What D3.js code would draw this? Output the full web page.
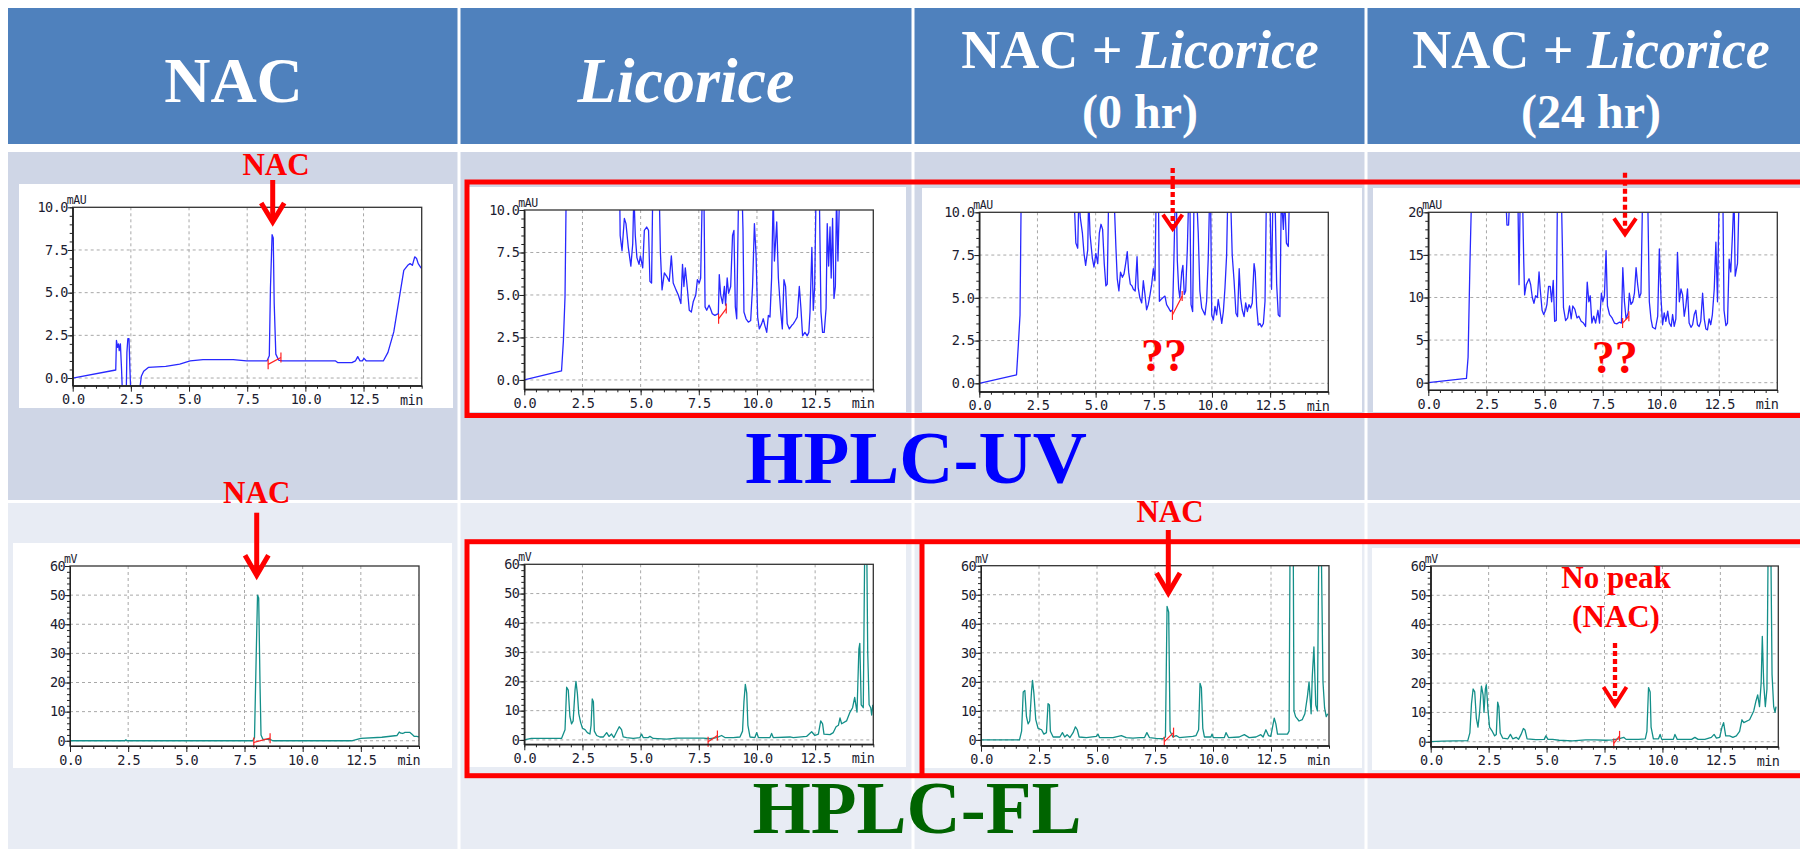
<!DOCTYPE html>
<html>
<head>
<meta charset="utf-8">
<script src="https://cdn.jsdelivr.net/npm/d3@7"></script>
<style>
  body { margin: 0; background: #fff; }
</style>
</head>
<body>
<svg id="fig" width="1800" height="849"></svg>
<script>
// tick values
const xMajor = [0, 2.5, 5, 7.5, 10, 12.5];
const uvTicks10 = [0, 2.5, 5, 7.5, 10];
const uvTicks20 = [0, 5, 10, 15, 20];
const flTicks = [0, 10, 20, 30, 40, 50, 60];

const columns = ['NAC', 'Licorice', 'NAC + Licorice', 'NAC + Licorice'];
const subtitles = ['', '', '(0 hr)', '(24 hr)'];

// chromatograms, [min, signal]; values above the scale are off-chart peaks
const uvNac = [[0,0],[1.85,0.47],[1.88,2.2],[1.93,1.8],[1.97,2.0],[2.0,1.6],[2.05,2.0],[2.1,0.5],[2.14,-1],[2.3,-1],[2.33,1.5],[2.37,2.3],[2.42,2.3],[2.46,0.5],[2.5,-1],[2.85,-1],[2.95,0.1],[3.05,0.4],[3.25,0.62],[4.0,0.68],[4.6,0.82],[5.05,1.0],[5.6,1.08],[6.9,1.08],[7.47,1.0],[8.35,1.0],[8.45,1.3],[8.5,5.3],[8.57,8.4],[8.62,8.2],[8.66,4.4],[8.73,1.4],[8.85,1.05],[9.0,1.0],[11.3,1.0],[11.4,0.9],[12.0,0.9],[12.15,1.0],[12.25,1.25],[12.35,1.0],[12.45,1.0],[12.52,1.15],[12.62,1.0],[13.35,1.0],[13.55,1.5],[13.8,2.7],[14.05,4.8],[14.23,6.3],[14.4,6.6],[14.5,6.7],[14.6,6.6],[14.7,7.1],[14.78,7.0],[14.85,6.7],[14.95,6.5],[15,6.4]];

const uvLic = [[0,0],[1.6,0.53],[1.68,2.3],[1.75,4.9],[1.8,11],[4.1,11],[4.12,8.5],[4.2,7.6],[4.3,9.5],[4.37,9.2],[4.47,7.8],[4.58,6.7],[4.66,8.0],[4.71,11],[4.77,8.5],[4.84,7.2],[4.93,6.8],[4.99,7.3],[5.09,6.6],[5.16,8.8],[5.26,9.0],[5.34,8.8],[5.4,5.8],[5.47,5.7],[5.52,11],[5.8,11],[5.85,7.5],[5.92,5.3],[6.02,6.3],[6.12,6.1],[6.23,5.8],[6.32,7.3],[6.4,5.7],[6.52,5.3],[6.62,5.0],[6.73,4.5],[6.8,6.8],[6.86,5.5],[6.92,6.6],[7.0,5.5],[7.09,4.1],[7.18,4.0],[7.26,4.6],[7.37,5.0],[7.44,5.9],[7.52,5.7],[7.58,6.0],[7.65,11],[7.72,11],[7.77,4.3],[7.84,4.1],[7.94,4.4],[8.0,4.2],[8.08,3.9],[8.19,3.8],[8.34,3.9],[8.38,6.2],[8.44,5.0],[8.52,4.5],[8.6,5.5],[8.65,4.4],[8.72,6.0],[8.78,5.1],[8.87,5.5],[8.95,8.5],[9.01,8.8],[9.07,4.3],[9.13,3.6],[9.21,11],[9.36,11],[9.4,8.8],[9.44,4.0],[9.53,3.6],[9.63,3.4],[9.73,3.5],[9.81,5.5],[9.89,9.2],[9.96,7.4],[10.03,3.7],[10.1,3.0],[10.2,3.3],[10.27,3.6],[10.34,3.2],[10.42,2.8],[10.49,3.8],[10.56,3.7],[10.63,6.0],[10.7,11],[10.75,7.0],[10.85,9.3],[10.92,6.0],[11.02,4.0],[11.09,3.0],[11.16,5.9],[11.23,5.5],[11.3,3.3],[11.39,3.0],[11.49,3.2],[11.56,3.3],[11.65,3.5],[11.73,3.7],[11.82,5.5],[11.89,4.2],[11.96,2.6],[12.06,2.8],[12.16,2.6],[12.23,2.8],[12.28,4.0],[12.36,7.8],[12.42,4.1],[12.48,5.5],[12.54,11],[12.68,11],[12.75,4.0],[12.82,2.8],[12.89,2.8],[12.97,4.2],[13.02,9.2],[13.08,6.7],[13.14,9.0],[13.19,6.0],[13.25,9.5],[13.31,4.8],[13.37,5.5],[13.42,11],[13.48,7.0],[13.55,11]];

const uvMix0 = [[0,0],[1.6,0.5],[1.68,2.3],[1.75,4.0],[1.8,11],[4.07,11],[4.15,8.2],[4.23,7.9],[4.28,11],[4.34,9.7],[4.43,8.8],[4.5,7.6],[4.57,6.9],[4.66,7.8],[4.7,11],[4.76,8.7],[4.86,7.3],[4.93,6.8],[5.01,7.6],[5.09,7.0],[5.16,8.8],[5.23,9.3],[5.3,9.0],[5.37,7.0],[5.44,5.7],[5.5,5.8],[5.56,11],[5.79,11],[5.87,8.0],[5.93,6.1],[6.0,5.4],[6.07,6.5],[6.15,6.2],[6.22,6.4],[6.29,7.0],[6.36,7.7],[6.42,6.5],[6.49,5.8],[6.56,5.7],[6.62,5.5],[6.7,5.4],[6.78,7.4],[6.83,5.6],[6.9,5.0],[6.98,4.7],[7.05,6.0],[7.12,5.2],[7.19,4.3],[7.26,4.6],[7.34,5.2],[7.41,5.8],[7.48,6.7],[7.55,6.0],[7.6,11],[7.7,11],[7.74,4.8],[7.81,4.9],[7.89,5.0],[7.98,5.1],[8.05,4.6],[8.14,4.4],[8.22,4.2],[8.31,4.3],[8.37,7.6],[8.42,11],[8.47,11],[8.51,7.2],[8.57,5.5],[8.62,5.0],[8.7,6.5],[8.75,6.9],[8.81,5.2],[8.87,5.4],[8.94,7.8],[9.0,11],[9.05,11],[9.1,4.6],[9.17,4.2],[9.23,11],[9.34,11],[9.41,8.8],[9.48,5.4],[9.56,4.4],[9.63,4.2],[9.7,4.0],[9.77,4.8],[9.84,7.3],[9.9,11],[9.94,11],[9.99,4.0],[10.06,3.7],[10.13,4.5],[10.2,4.0],[10.27,4.9],[10.34,4.3],[10.42,3.5],[10.49,4.2],[10.56,5.6],[10.63,7.5],[10.68,11],[10.8,11],[10.87,7.5],[10.95,6.0],[11.03,4.1],[11.1,3.9],[11.17,6.7],[11.23,5.0],[11.3,4.3],[11.38,3.9],[11.45,4.7],[11.52,4.2],[11.59,4.6],[11.66,4.4],[11.73,4.7],[11.81,7.0],[11.86,6.5],[11.92,4.5],[11.99,3.4],[12.06,3.5],[12.13,3.3],[12.21,3.5],[12.28,4.8],[12.34,11],[12.49,11],[12.56,5.5],[12.62,11],[12.71,11],[12.78,5.8],[12.85,4.0],[12.92,3.9],[12.98,11],[13.07,9.0],[13.12,11],[13.2,8.2],[13.28,8.0],[13.33,11]];

const uvMix24 = [[0,0],[1.64,0.5],[1.71,3],[1.79,14],[1.86,22],[3.33,22],[3.38,18.5],[3.45,18.5],[3.5,22],[3.85,22],[3.9,11.5],[3.95,22],[4.05,22],[4.1,14.5],[4.14,10.3],[4.21,11.5],[4.33,12.2],[4.4,11.5],[4.47,10.0],[4.54,9.3],[4.61,10.2],[4.69,10.0],[4.76,13.0],[4.81,11.0],[4.89,8.5],[4.96,8.0],[5.04,8.5],[5.1,9.2],[5.17,11.3],[5.24,11.3],[5.3,9.5],[5.37,12.0],[5.43,7.2],[5.5,7.3],[5.55,22],[5.72,22],[5.77,15],[5.81,8.8],[5.9,7.3],[5.99,7.6],[6.07,9.0],[6.14,7.5],[6.21,9.0],[6.3,8.6],[6.39,7.6],[6.47,7.8],[6.57,7.2],[6.67,7.0],[6.76,6.6],[6.83,11.8],[6.9,9.5],[6.96,10.2],[7.03,7.0],[7.11,7.8],[7.19,7.0],[7.29,8.5],[7.36,7.0],[7.44,10.5],[7.5,9.5],[7.57,10.2],[7.64,15.5],[7.7,9.0],[7.79,8.0],[7.9,7.6],[8.0,7.0],[8.1,6.9],[8.21,7.1],[8.3,7.0],[8.36,13.5],[8.43,9.5],[8.5,7.5],[8.59,8.2],[8.64,10.5],[8.71,9.2],[8.79,9.5],[8.86,10.5],[8.93,13.5],[9.0,11.5],[9.07,10.0],[9.14,10.5],[9.21,22],[9.43,22],[9.5,9.5],[9.57,7.5],[9.64,6.5],[9.76,6.3],[9.86,7.8],[9.93,15.7],[10.0,10.0],[10.07,6.8],[10.14,8.2],[10.21,7.2],[10.29,8.4],[10.36,7.0],[10.44,6.6],[10.5,8.0],[10.57,6.6],[10.64,7.5],[10.71,15.3],[10.79,9.5],[10.86,11.0],[10.93,10.3],[11.0,7.8],[11.07,9.0],[11.14,11.0],[11.21,7.0],[11.29,6.5],[11.36,6.8],[11.43,8.0],[11.5,8.5],[11.57,6.8],[11.64,6.6],[11.71,7.2],[11.79,10.5],[11.86,7.5],[11.93,6.3],[12.0,6.2],[12.07,7.5],[12.14,6.8],[12.21,8.0],[12.29,11.0],[12.36,16.5],[12.43,9.5],[12.5,22],[12.66,22],[12.71,8.5],[12.79,6.7],[12.86,7.0],[12.93,14.5],[13.0,13.0],[13.07,17.2],[13.14,22],[13.19,12.5],[13.29,14],[13.36,22]];

const flNac = [[0,0],[2.35,0],[2.4,0.3],[2.45,0],[7.85,0],[7.93,1],[8.0,28],[8.06,50],[8.11,49],[8.17,18],[8.21,2],[8.29,0.5],[8.6,0.5],[8.71,0],[12.1,0],[12.5,0.8],[13.4,1.2],[14.05,1.8],[14.15,3.0],[14.22,2.6],[14.3,2.5],[14.4,2.9],[14.6,2.9],[14.7,2.2],[14.8,1.5],[14.9,1.5],[15,1.3]];

const flLic = [[0,0],[0.3,0.5],[1.6,0.5],[1.75,3.5],[1.82,18],[1.89,17],[1.96,8],[2.03,5.5],[2.1,6.5],[2.18,17],[2.22,20],[2.28,16],[2.34,9],[2.42,6],[2.5,4],[2.61,3.5],[2.71,2.5],[2.82,2.0],[2.87,5],[2.92,14],[2.97,13],[3.01,3],[3.11,1.5],[3.25,1.0],[3.4,1.0],[3.54,2.5],[3.64,1.2],[3.75,2.0],[3.85,0.8],[3.97,2.8],[4.08,4.5],[4.18,3.5],[4.25,1.0],[4.4,0.8],[4.68,0.5],[4.97,0.8],[5.04,2.0],[5.11,0.8],[5.33,0.8],[5.4,1.2],[5.54,0.5],[6.12,0.3],[6.55,0.6],[6.98,0.6],[7.26,0.6],[7.69,0.6],[7.98,0.4],[8.27,0.8],[8.48,1.5],[8.62,0.8],[8.98,0.8],[9.27,1.0],[9.38,3.0],[9.44,13],[9.5,19],[9.56,16],[9.61,5],[9.7,1.0],[9.91,0.8],[9.99,2.5],[10.06,0.8],[10.56,0.8],[10.63,2.2],[10.7,0.8],[11.42,1.0],[11.56,0.8],[12.13,1.2],[12.35,2.8],[12.49,1.5],[12.64,2.0],[12.74,6.5],[12.82,5.5],[12.88,2.0],[13.14,1.8],[13.28,2.5],[13.4,4.5],[13.5,5.0],[13.57,7.5],[13.64,5.5],[13.85,6.5],[14.0,9.5],[14.11,11],[14.2,14.5],[14.3,9.5],[14.38,31],[14.42,33],[14.48,12],[14.57,11],[14.63,65],[14.72,65],[14.76,30],[14.82,12],[14.89,11],[14.93,8.5],[14.98,12]];

const flMix0 = [[0,0],[1.66,0],[1.75,3],[1.82,16.5],[1.89,17],[1.96,8],[2.03,5.5],[2.1,6.5],[2.18,17],[2.22,20.5],[2.28,16],[2.36,7],[2.46,4],[2.61,3.5],[2.71,2.0],[2.82,2.5],[2.89,12.5],[2.95,12],[2.99,3],[3.11,1.0],[3.4,1.0],[3.51,2.5],[3.61,1.0],[3.71,1.8],[3.83,0.8],[3.97,2.5],[4.07,4.5],[4.15,3.5],[4.23,1.0],[4.54,0.8],[4.97,1.2],[5.04,2.0],[5.11,0.8],[5.69,0.8],[6.05,1.5],[6.26,0.8],[6.55,0.6],[6.83,0.8],[7.05,0.8],[7.15,2.5],[7.26,0.8],[7.55,0.5],[7.84,0.4],[7.95,1.0],[8.02,46],[8.09,44],[8.15,3],[8.27,1.0],[8.41,1.5],[8.55,0.8],[9.13,1.2],[9.27,1.5],[9.38,3.5],[9.44,19.5],[9.5,18],[9.56,4],[9.63,1.0],[9.91,1.0],[9.96,2.0],[10.01,0.8],[10.49,0.8],[10.56,2.5],[10.67,0.8],[11.13,1.0],[11.35,1.8],[11.56,0.8],[11.85,1.0],[12.06,1.8],[12.16,1.0],[12.28,3.5],[12.39,1.5],[12.49,1.2],[12.64,7.5],[12.71,5.5],[12.78,2.0],[12.92,2.0],[13.21,2.0],[13.28,3.0],[13.32,65],[13.46,65],[13.49,10],[13.56,8],[13.71,6.5],[13.85,7],[13.96,9],[14.07,15],[14.14,20],[14.23,9],[14.28,22],[14.35,32],[14.43,12],[14.5,10],[14.56,65],[14.67,65],[14.74,20],[14.81,11],[14.88,8],[14.95,9]];

const flMix24 = [[0,0],[0.5,0.2],[1.6,0.4],[1.69,3],[1.76,13],[1.83,18],[1.9,17],[1.97,8],[2.04,5],[2.11,10],[2.19,19],[2.26,16],[2.3,10],[2.36,18],[2.4,19.5],[2.47,11],[2.54,5],[2.66,3.5],[2.76,2.0],[2.83,2.5],[2.89,13.5],[2.94,12],[3.0,3],[3.11,1.2],[3.33,1.0],[3.44,2.5],[3.54,1.0],[3.69,1.5],[3.79,0.8],[3.9,2.5],[4.0,4.5],[4.07,4.0],[4.16,1.0],[4.54,0.7],[4.9,0.8],[4.97,2.0],[5.06,0.8],[5.26,0.8],[5.54,0.5],[6.11,0.3],[6.69,0.6],[7.11,0.6],[7.54,0.5],[7.83,0.6],[8.11,1.0],[8.33,1.5],[8.43,0.8],[8.97,0.8],[9.26,1.0],[9.33,3.5],[9.4,18.5],[9.47,17],[9.51,5],[9.61,1.0],[9.83,1.0],[9.9,2.5],[9.97,0.8],[10.47,0.8],[10.54,2.5],[10.64,0.8],[11.26,0.8],[11.4,1.5],[11.54,0.8],[11.83,0.8],[12.11,1.5],[12.23,2.5],[12.33,1.2],[12.47,1.5],[12.57,5.0],[12.64,6.5],[12.73,2.0],[12.9,2.0],[13.04,1.5],[13.19,2.0],[13.33,3.5],[13.43,7.5],[13.51,6.5],[13.76,7.5],[13.94,10.5],[14.04,14],[14.11,16],[14.19,12],[14.26,20],[14.31,36],[14.37,20],[14.44,12],[14.51,18],[14.56,65],[14.68,65],[14.73,23],[14.8,12],[14.86,10],[14.9,12]];

// integration baseline marks [t0, v0, t1, v1]
const uvMarks = [[8.4,0.8,8.95,1.2],[8.35,3.6,8.68,4.2],[8.3,4.0,8.72,5.1],[8.35,7.0,8.62,7.8]];
const flMarks = [[7.9,-0.6,8.6,0.9],[7.9,-0.6,8.3,1.5],[7.9,-0.6,8.3,2.5],[7.9,-0.6,8.15,2.0]];

const svg = d3.select('#fig');
const serif = '"Liberation Serif", "Times New Roman", serif';
const mono = '"DejaVu Sans Mono", "Liberation Mono", monospace';
const uvColor = '#2828ff';
const flColor = '#138f89';
const labelColor = '#1c1c30';

// table background
svg.append('rect').attr('x', 8).attr('y', 8).attr('width', 1800).attr('height', 136).attr('fill', '#4f81bd');
svg.append('rect').attr('x', 8).attr('y', 152).attr('width', 1800).attr('height', 348).attr('fill', '#cfd6e6');
svg.append('rect').attr('x', 8).attr('y', 503).attr('width', 1800).attr('height', 346).attr('fill', '#e8ecf4');
[459, 913, 1366].forEach(function (cx) {
    svg.append('line').attr('x1', cx).attr('x2', cx).attr('y1', 8).attr('y2', 849)
        .attr('stroke', '#fff').attr('stroke-width', 3);
});

// header
const colCenters = [233.5, 686, 1140, 1591];
columns.forEach(function (name, i) {
    let big = subtitles[i] === '';
    let t = svg.append('text')
        .attr('x', colCenters[i]).attr('y', big ? 102 : 68)
        .attr('text-anchor', 'middle')
        .attr('font-family', serif).attr('font-weight', 'bold')
        .attr('font-size', big ? 64 : 54).attr('fill', '#fff');
    if (name === 'Licorice') {
        t.append('tspan').attr('font-style', 'italic').text('Licorice');
    } else if (name === 'NAC') {
        t.text('NAC');
    } else {
        t.append('tspan').text('NAC + ');
        t.append('tspan').attr('font-style', 'italic').text('Licorice');
    }
    if (!big) {
        svg.append('text')
            .attr('x', colCenters[i]).attr('y', 128)
            .attr('text-anchor', 'middle')
            .attr('font-family', serif).attr('font-weight', 'bold')
            .attr('font-size', 48).attr('fill', '#fff')
            .text(subtitles[i]);
    }
});

const panels = [
    { data: uvNac, mark: uvMarks[0], bg: [19, 184, 434, 224], l: 72.7, r: 421.7, t: 207.3, b: 385.7, ymin: -0.45, ymax: 10, ticks: uvTicks10, minor: 0.5, fmt: '.1f', unit: 'mAU', color: uvColor },
    { data: uvLic, mark: uvMarks[1], bg: [469, 187, 437, 225], l: 524.3, r: 873.3, t: 210, b: 389.3, ymin: -0.55, ymax: 10, ticks: uvTicks10, minor: 0.5, fmt: '.1f', unit: 'mAU', color: uvColor },
    { data: uvMix0, mark: uvMarks[2], bg: [922, 188, 440, 224], l: 979.3, r: 1328.3, t: 212.3, b: 391.7, ymin: -0.49, ymax: 10, ticks: uvTicks10, minor: 0.5, fmt: '.1f', unit: 'mAU', color: uvColor },
    { data: uvMix24, mark: uvMarks[3], bg: [1373, 188, 440, 224], l: 1428.3, r: 1777.3, t: 212.3, b: 390, ymin: -0.86, ymax: 20, ticks: uvTicks20, minor: 1, fmt: 'd', unit: 'mAU', color: uvColor },
    { data: flNac, mark: flMarks[0], bg: [13, 543, 439, 225], l: 70, r: 419, t: 566, b: 746, ymin: -1.8, ymax: 60, ticks: flTicks, minor: 2, fmt: 'd', unit: 'mV', color: flColor },
    { data: flLic, mark: flMarks[1], bg: [469, 544, 437, 223], l: 524.3, r: 873.3, t: 564.3, b: 744.3, ymin: -1.5, ymax: 60, ticks: flTicks, minor: 2, fmt: 'd', unit: 'mV', color: flColor },
    { data: flMix0, mark: flMarks[2], bg: [924, 543, 438, 225], l: 981, r: 1329, t: 565.7, b: 745.7, ymin: -2, ymax: 60, ticks: flTicks, minor: 2, fmt: 'd', unit: 'mV', color: flColor },
    { data: flMix24, mark: flMarks[3], bg: [1372, 548, 440, 222], l: 1430.7, r: 1778.3, t: 566, b: 746.7, ymin: -1.7, ymax: 60, ticks: flTicks, minor: 2, fmt: 'd', unit: 'mV', color: flColor }
];

function styleAxis(sel) {
    sel.select('.domain').attr('stroke', '#222');
    sel.selectAll('line').attr('stroke', '#222');
    sel.selectAll('text').attr('font-family', mono).attr('font-size', 13.5)
        .attr('letter-spacing', -0.6).attr('fill', labelColor);
}

function drawPanel(p, i) {
    let g = svg.append('g');
    g.append('rect').attr('x', p.bg[0]).attr('y', p.bg[1]).attr('width', p.bg[2]).attr('height', p.bg[3]).attr('fill', '#fff');

    let x = d3.scaleLinear().domain([0, 15]).range([p.l, p.r]);
    let y = d3.scaleLinear().domain([p.ymin, p.ymax]).range([p.b, p.t]);

    // dashed grid
    g.append('g').selectAll('line').data(xMajor.slice(1)).enter().append('line')
        .attr('x1', d => x(d)).attr('x2', d => x(d)).attr('y1', p.t).attr('y2', p.b)
        .attr('stroke', '#a8a8a8').attr('stroke-dasharray', '3,3');
    g.append('g').selectAll('line').data(p.ticks.slice(0, -1)).enter().append('line')
        .attr('x1', p.l).attr('x2', p.r).attr('y1', d => y(d)).attr('y2', d => y(d))
        .attr('stroke', '#a8a8a8').attr('stroke-dasharray', '3,3');

    let clipId = 'clip' + i;
    g.append('clipPath').attr('id', clipId).append('rect')
        .attr('x', p.l).attr('y', p.t).attr('width', p.r - p.l).attr('height', p.b - p.t);

    let line = d3.line().x(d => x(d[0])).y(d => y(d[1]));
    g.append('path').datum(p.data).attr('d', line)
        .attr('fill', 'none').attr('stroke', p.color).attr('stroke-width', 1.3)
        .attr('stroke-linejoin', 'round').attr('clip-path', 'url(#' + clipId + ')');

    // integration baseline
    let m = p.mark;
    g.append('line').attr('x1', x(m[0])).attr('y1', y(m[1])).attr('x2', x(m[2])).attr('y2', y(m[3]))
        .attr('stroke', '#ff2020').attr('stroke-width', 1.2);
    [[m[0], m[1]], [m[2], m[3]]].forEach(function (e) {
        g.append('line').attr('x1', x(e[0])).attr('x2', x(e[0]))
            .attr('y1', y(e[1]) - 5).attr('y2', y(e[1]) + 5)
            .attr('stroke', '#ff2020').attr('stroke-width', 1.2);
    });

    // frame
    g.append('rect').attr('x', p.l).attr('y', p.t).attr('width', p.r - p.l).attr('height', p.b - p.t)
        .attr('fill', 'none').attr('stroke', '#333').attr('stroke-width', 1.3);

    // x axis
    let xMinor = g.append('g').attr('transform', 'translate(0,' + p.b + ')')
        .call(d3.axisBottom(x).tickValues(d3.range(0, 15.01, 0.5)).tickSize(3).tickSizeOuter(0).tickFormat(''));
    styleAxis(xMinor);
    let xAx = g.append('g').attr('transform', 'translate(0,' + p.b + ')')
        .call(d3.axisBottom(x).tickValues(xMajor).tickSize(6).tickSizeOuter(0).tickPadding(3).tickFormat(d3.format('.1f')));
    styleAxis(xAx);
    g.append('text').attr('x', p.r + 1).attr('y', p.b + 19).attr('text-anchor', 'end')
        .attr('font-family', mono).attr('font-size', 13.5).attr('letter-spacing', -0.6)
        .attr('fill', labelColor).text('min');

    // y axis
    let yMinor = g.append('g').attr('transform', 'translate(' + p.l + ',0)')
        .call(d3.axisLeft(y).tickValues(d3.range(0, p.ymax + 0.001, p.minor)).tickSize(3).tickSizeOuter(0).tickFormat(''));
    styleAxis(yMinor);
    let yAx = g.append('g').attr('transform', 'translate(' + p.l + ',0)')
        .call(d3.axisLeft(y).tickValues(p.ticks).tickSize(5).tickSizeOuter(0).tickPadding(0).tickFormat(d3.format(p.fmt)));
    styleAxis(yAx);

    g.append('text').attr('x', p.l - 6).attr('y', p.t - 3)
        .attr('font-family', mono).attr('font-size', 11.5).attr('letter-spacing', -0.4)
        .attr('fill', labelColor).text(p.unit);
}

panels.forEach(drawPanel);

// red boxes
svg.append('rect').attr('x', 467).attr('y', 182).attr('width', 1400).attr('height', 233.5)
    .attr('fill', 'none').attr('stroke', '#ff0000').attr('stroke-width', 5);
svg.append('rect').attr('x', 467).attr('y', 541.7).attr('width', 1400).attr('height', 234)
    .attr('fill', 'none').attr('stroke', '#ff0000').attr('stroke-width', 5);
svg.append('line').attr('x1', 922).attr('x2', 922).attr('y1', 541.7).attr('y2', 775.7)
    .attr('stroke', '#ff0000').attr('stroke-width', 5);

// annotations
function redText(txt, x, y, size) {
    svg.append('text').attr('x', x).attr('y', y).attr('text-anchor', 'middle')
        .attr('font-family', serif).attr('font-weight', 'bold').attr('font-size', size)
        .attr('fill', '#ff0000').text(txt);
}

function arrow(x, y0, y1, hw, hh, dashed) {
    svg.append('line').attr('x1', x).attr('x2', x).attr('y1', y0).attr('y2', y1 - 4)
        .attr('stroke', '#ff0000').attr('stroke-width', dashed ? 4.3 : 5)
        .attr('stroke-dasharray', dashed ? '5,3' : null);
    svg.append('path')
        .attr('d', 'M' + (x - hw) + ',' + (y1 - hh) + 'L' + x + ',' + (y1 - 3) + 'L' + (x + hw) + ',' + (y1 - hh))
        .attr('fill', 'none').attr('stroke', '#ff0000').attr('stroke-width', dashed ? 4 : 5);
}

redText('NAC', 276, 175, 31);
arrow(272.7, 180, 225, 11.5, 22, false);
redText('NAC', 256.7, 503, 31);
arrow(256.7, 512.7, 578.3, 11.7, 23, false);
redText('NAC', 1170, 521.7, 31);
arrow(1168.3, 530, 596, 11.7, 23, false);

arrow(1172.7, 168, 231.7, 9.7, 17, true);
arrow(1625, 172.7, 237.3, 11, 19, true);
redText('??', 1164, 371, 46);
redText('??', 1614.7, 373, 46);

redText('No peak', 1616, 588, 31);
redText('(NAC)', 1616, 627, 31);
arrow(1615, 643, 708, 11.5, 21, true);

// method labels
svg.append('text').attr('x', 916).attr('y', 483).attr('text-anchor', 'middle')
    .attr('font-family', serif).attr('font-weight', 'bold').attr('font-size', 75)
    .attr('fill', '#0000ff').text('HPLC-UV');
svg.append('text').attr('x', 917).attr('y', 833).attr('text-anchor', 'middle')
    .attr('font-family', serif).attr('font-weight', 'bold').attr('font-size', 75)
    .attr('fill', '#006400').text('HPLC-FL');
</script>
</body>
</html>
